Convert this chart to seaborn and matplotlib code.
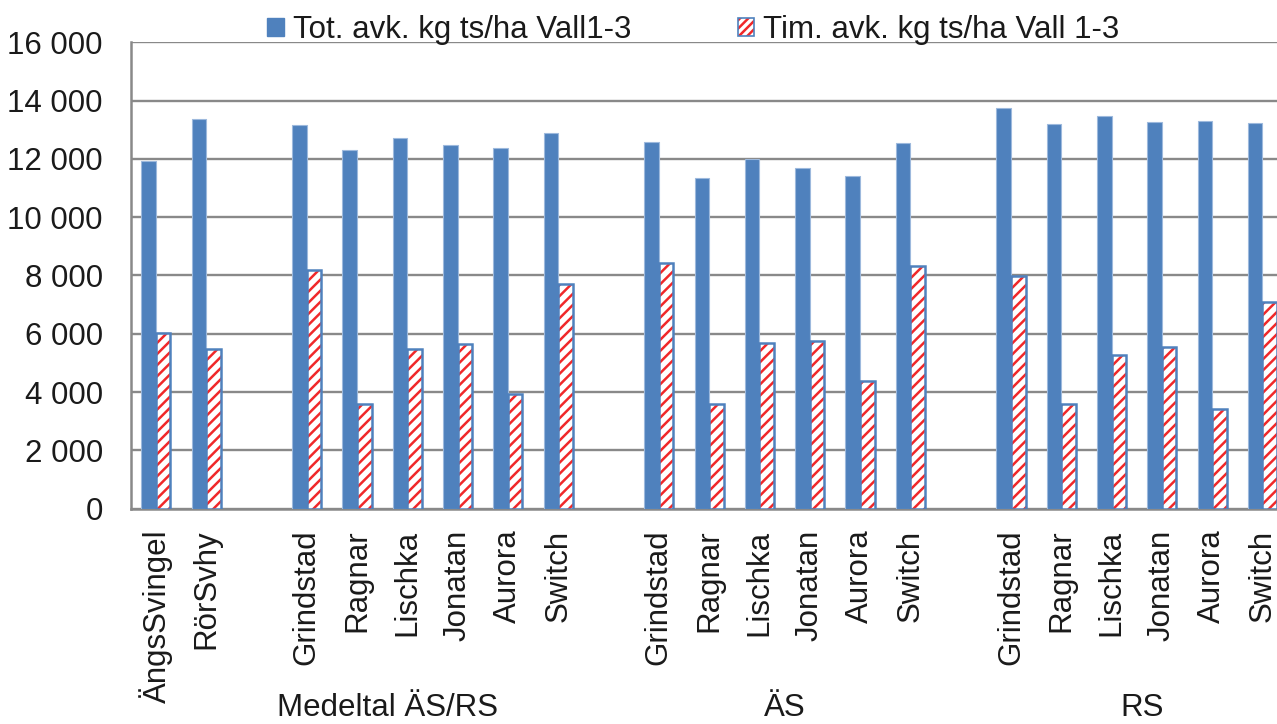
import matplotlib
matplotlib.use("Agg")
import matplotlib.pyplot as plt
from matplotlib.patches import Patch, Rectangle
from matplotlib.legend_handler import HandlerTuple
from matplotlib.ticker import FuncFormatter
import numpy as np
import pandas as pd
import seaborn as sns

# categories (empty strings are the gaps between groups)
labels = ["ÄngsSvingel", "RörSvhy", "",
          "Grindstad", "Ragnar", "Lischka", "Jonatan", "Aurora", "Switch", "",
          "Grindstad", "Ragnar", "Lischka", "Jonatan", "Aurora", "Switch", "",
          "Grindstad", "Ragnar", "Lischka", "Jonatan", "Aurora", "Switch"]
groups = ["Medeltal ÄS/RS", "ÄS", "RS"]
group_pos = [4.6, 12.5, 19.6]

tot = [11930, 13370, np.nan,
       13150, 12300, 12720, 12480, 12360, 12890, np.nan,
       12570, 11360, 11990, 11700, 11420, 12540, np.nan,
       13750, 13190, 13480, 13260, 13290, 13240]
tim = [6030, 5470, np.nan,
       8200, 3590, 5470, 5650, 3920, 7710, np.nan,
       8430, 3590, 5680, 5750, 4380, 8340, np.nan,
       7980, 3590, 5270, 5550, 3430, 7100]

s_tot = "Tot. avk. kg ts/ha Vall1-3"
s_tim = "Tim. avk. kg ts/ha Vall 1-3"

slots = [f"s{i:02d}" for i in range(len(labels))]
df = pd.DataFrame({
    "slot": slots * 2,
    "serie": [s_tot] * len(slots) + [s_tim] * len(slots),
    "value": tot + tim,
}).dropna()

blue = "#4F81BD"
red = "#F0282A"
grey = "#898989"
txt = "#1a1a1a"
fs = 22.5

sns.set_style("white")
plt.rcParams["font.family"] = ["Liberation Sans", "DejaVu Sans"]
plt.rcParams["hatch.linewidth"] = 1.8

fig = plt.figure(figsize=(12.77, 7.24), dpi=100)
ax = fig.add_axes([0.1023, 0.2974, 0.906, 0.6442])

sns.barplot(data=df, x="slot", y="value", hue="serie", order=slots,
            hue_order=[s_tot, s_tim], palette={s_tot: blue, s_tim: "white"},
            width=0.58, saturation=1, ax=ax, legend=False, errorbar=None, zorder=3)

for bar in ax.containers[0]:
    bar.set_edgecolor("#9DB9DD")
    bar.set_linewidth(0.8)
for bar in ax.containers[1]:
    bar.set_facecolor("white")
    bar.set_edgecolor(red)
    bar.set_hatch("///")
    bar.set_linewidth(0)
    ax.add_patch(Rectangle(bar.get_xy(), bar.get_width(), bar.get_height(),
                           fill=False, edgecolor=blue, lw=1.8, zorder=4))

ax.set_xlim(-0.5, len(labels) - 0.5)
ax.set_ylim(0, 16000)
ax.set_yticks(np.arange(0, 16001, 2000))
ax.yaxis.set_major_formatter(FuncFormatter(lambda v, p: f"{int(v):,}".replace(",", " ")))
ax.grid(axis="y", color=grey, lw=1.7, zorder=0)
ax.set_axisbelow(True)

ax.set_xticks(range(len(labels)))
ax.set_xticklabels(labels, rotation=90)
ax.set_xticks(np.arange(-0.5, len(labels), 1), minor=True)
ax.tick_params(axis="x", which="major", length=0, pad=15, labelsize=fs, colors=txt)
ax.tick_params(axis="x", which="minor", length=7, width=1.7, color=grey, direction="out")
ax.tick_params(axis="y", length=6, width=1.7, color=grey, pad=14, labelsize=fs,
               labelcolor=txt, direction="out")
ax.set_xlabel("")
ax.set_ylabel("")

for side in ["top", "right"]:
    ax.spines[side].set_visible(False)
for side in ["left", "bottom"]:
    ax.spines[side].set_color(grey)
    ax.spines[side].set_linewidth(1.8)

group_y = -(716 - 508.7) / (724 * 0.6442)
for name, x in zip(groups, group_pos):
    ax.text(x, group_y, name, transform=ax.get_xaxis_transform(), ha="center",
            va="baseline", fontsize=fs, color=txt)

h_tot = Patch(facecolor=blue, edgecolor=blue)
h_tim = (Patch(facecolor="white", edgecolor=red, hatch="////", lw=0),
         Patch(fill=False, edgecolor=blue, lw=1.2))
fig.legend([h_tot, h_tim], [s_tot, s_tim], loc="center", bbox_to_anchor=(0.543, 0.958),
           ncol=2, frameon=False, fontsize=fs, handlelength=0.52, handleheight=0.52,
           handletextpad=0.3, columnspacing=3.4, labelcolor=txt,
           handler_map={tuple: HandlerTuple(ndivide=1, pad=0)})

fig.savefig("out.png", dpi=100)
